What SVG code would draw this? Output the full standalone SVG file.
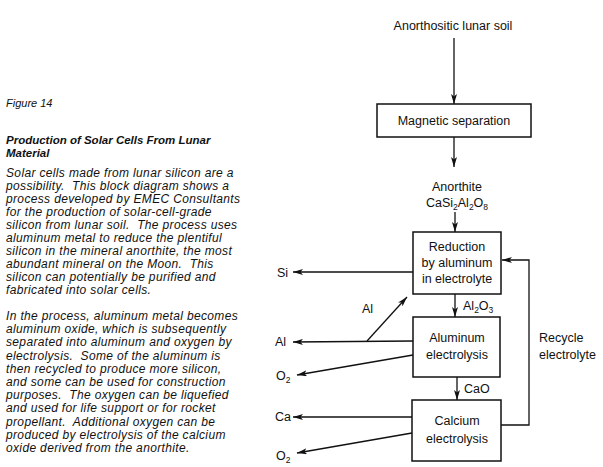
<svg xmlns="http://www.w3.org/2000/svg" width="603" height="467" viewBox="0 0 603 467">
<style>
.body{font-family:"Liberation Sans",Arial,sans-serif;font-style:italic;font-size:12px;letter-spacing:0.35px;fill:#111;white-space:pre}
.fig{font-family:"Liberation Sans",Arial,sans-serif;font-style:italic;font-size:11px;fill:#111}
.title{font-family:"Liberation Sans",Arial,sans-serif;font-style:italic;font-weight:bold;font-size:11.5px;fill:#111}
.lbl{font-family:"Liberation Sans",Arial,sans-serif;font-size:12.5px;fill:#111}
.c{text-anchor:middle}
.box{fill:#fff;stroke:#111;stroke-width:1.5}
.ln{fill:none;stroke:#111;stroke-width:1.3}
</style>
<defs>
<marker id="ah" viewBox="0 0 10 6" refX="10" refY="3" markerWidth="10" markerHeight="6" markerUnits="userSpaceOnUse" orient="auto">
<path d="M0,0 L10,3 L0,6 L2.5,3 Z" fill="#111"/>
</marker>
</defs>
<rect width="603" height="467" fill="#fff"/>
<g id="caption">
<text class="fig" x="6" y="107">Figure 14</text>
<text class="title" x="6" y="144">Production of Solar Cells From Lunar</text>
<text class="title" x="6" y="157">Material</text>
<text class="body" x="6" y="177">Solar cells made from lunar silicon are a</text>
<text class="body" x="6" y="190">possibility.  This block diagram shows a</text>
<text class="body" x="6" y="203">process developed by EMEC Consultants</text>
<text class="body" x="6" y="216">for the production of solar-cell-grade</text>
<text class="body" x="6" y="229">silicon from lunar soil.  The process uses</text>
<text class="body" x="6" y="242">aluminum metal to reduce the plentiful</text>
<text class="body" x="6" y="255">silicon in the mineral anorthite, the most</text>
<text class="body" x="6" y="268">abundant mineral on the Moon.  This</text>
<text class="body" x="6" y="281">silicon can potentially be purified and</text>
<text class="body" x="6" y="294">fabricated into solar cells.</text>
<text class="body" x="6" y="320">In the process, aluminum metal becomes</text>
<text class="body" x="6" y="333.2">aluminum oxide, which is subsequently</text>
<text class="body" x="6" y="346.4">separated into aluminum and oxygen by</text>
<text class="body" x="6" y="359.6">electrolysis.  Some of the aluminum is</text>
<text class="body" x="6" y="372.8">then recycled to produce more silicon,</text>
<text class="body" x="6" y="386">and some can be used for construction</text>
<text class="body" x="6" y="399.2">purposes.  The oxygen can be liquefied</text>
<text class="body" x="6" y="412.4">and used for life support or for rocket</text>
<text class="body" x="6" y="425.6">propellant.  Additional oxygen can be</text>
<text class="body" x="6" y="438.8">produced by electrolysis of the calcium</text>
<text class="body" x="6" y="452">oxide derived from the anorthite.</text>
</g>
<g id="connectors">
<line class="ln" x1="454" y1="38" x2="454" y2="104" marker-end="url(#ah)"/>
<line class="ln" x1="454" y1="137" x2="454" y2="167" marker-end="url(#ah)"/>
<line class="ln" x1="455" y1="212" x2="455" y2="232" marker-end="url(#ah)"/>
<line class="ln" x1="413" y1="272" x2="293" y2="272" marker-end="url(#ah)"/>
<line class="ln" x1="455" y1="294" x2="455" y2="317" marker-end="url(#ah)"/>
<line class="ln" x1="413" y1="341" x2="293" y2="342" marker-end="url(#ah)"/>
<line class="ln" x1="367" y1="341" x2="407" y2="297" marker-end="url(#ah)"/>
<line class="ln" x1="413" y1="355" x2="297" y2="375" marker-end="url(#ah)"/>
<line class="ln" x1="457" y1="377" x2="457" y2="400" marker-end="url(#ah)"/>
<line class="ln" x1="412" y1="417" x2="293" y2="417" marker-end="url(#ah)"/>
<line class="ln" x1="412" y1="433" x2="297" y2="453" marker-end="url(#ah)"/>
<path class="ln" d="M501,425 H529 V260 H502" marker-end="url(#ah)"/>
</g>
<g id="soil"><text class="lbl c" x="453" y="30">Anorthositic lunar soil</text></g>
<g id="magnetic">
<rect class="box" x="377" y="104" width="154" height="33"/>
<text class="lbl c" x="454" y="125">Magnetic separation</text>
</g>
<g id="anorthite">
<text class="lbl c" x="457" y="191">Anorthite</text>
<text class="lbl c" x="457" y="207">CaSi<tspan font-size="8.5" dy="3">2</tspan><tspan dy="-3">Al</tspan><tspan font-size="8.5" dy="3">2</tspan><tspan dy="-3">O</tspan><tspan font-size="8.5" dy="3">8</tspan></text>
</g>
<g id="reduction">
<rect class="box" x="413" y="232" width="88" height="62"/>
<text class="lbl c" x="457" y="251">Reduction</text>
<text class="lbl c" x="457" y="267">by aluminum</text>
<text class="lbl c" x="457" y="283">in electrolyte</text>
</g>
<g id="al-electrolysis">
<rect class="box" x="413" y="317" width="87" height="60"/>
<text class="lbl c" x="457" y="342">Aluminum</text>
<text class="lbl c" x="457" y="359">electrolysis</text>
</g>
<g id="ca-electrolysis">
<rect class="box" x="412" y="400" width="89" height="61"/>
<text class="lbl c" x="457" y="425">Calcium</text>
<text class="lbl c" x="457" y="443">electrolysis</text>
</g>
<g id="labels">
<text class="lbl" x="277" y="277">Si</text>
<text class="lbl" x="275" y="346">Al</text>
<text class="lbl" x="362" y="313">Al</text>
<text class="lbl" x="276" y="380">O<tspan font-size="8.5" dy="3">2</tspan></text>
<text class="lbl" x="275" y="421">Ca</text>
<text class="lbl" x="276" y="460">O<tspan font-size="8.5" dy="3">2</tspan></text>
<text class="lbl" x="463" y="310">Al<tspan font-size="8.5" dy="3">2</tspan><tspan dy="-3">O</tspan><tspan font-size="8.5" dy="3">3</tspan></text>
<text class="lbl" x="464" y="393">CaO</text>
<text class="lbl" x="539" y="342">Recycle</text>
<text class="lbl" x="539" y="359">electrolyte</text>
</g>
</svg>
